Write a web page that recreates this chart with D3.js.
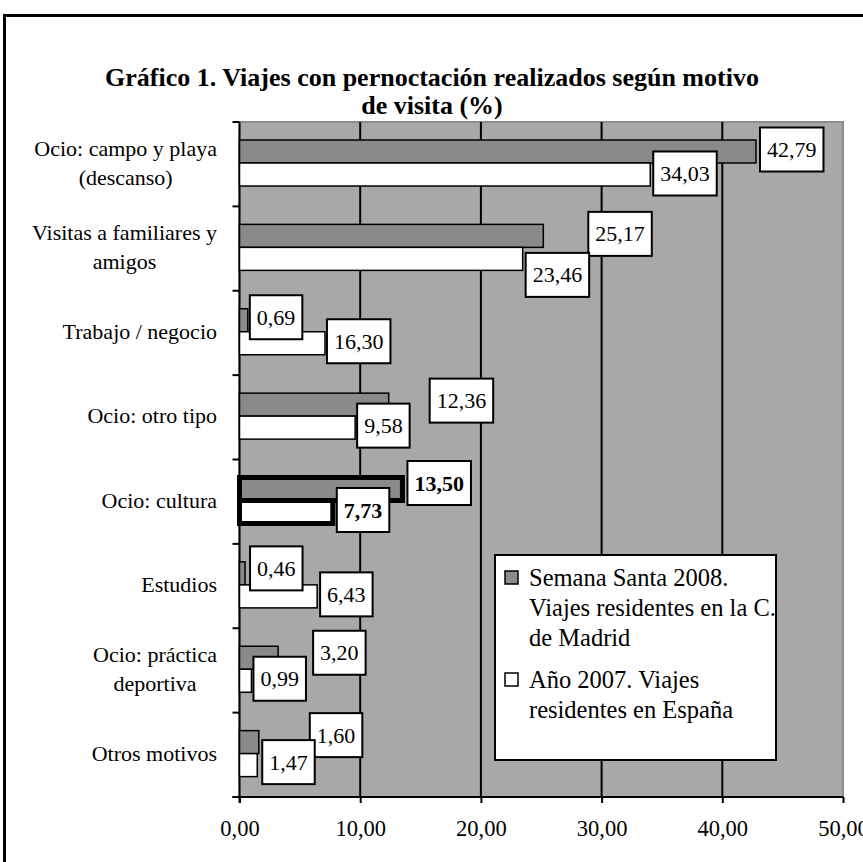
<!DOCTYPE html>
<html>
<head>
<meta charset="utf-8">
<script src="https://cdn.jsdelivr.net/npm/d3@7"></script>
<style>
  body { margin: 0; background: #fff; }
  svg text { font-family: "Liberation Serif", "Times New Roman", serif; fill: #000; }
</style>
</head>
<body>
<svg id="chart" width="863" height="862"></svg>
<script>
// data
var categories = [
  ["Ocio: campo y playa", "(descanso)"],
  ["Visitas a familiares y", "amigos"],
  ["Trabajo / negocio"],
  ["Ocio: otro tipo"],
  ["Ocio: cultura"],
  ["Estudios"],
  ["Ocio: práctica", "deportiva"],
  ["Otros motivos"]
];
// bar lengths as drawn
var semanaSanta2008 = [42.79, 25.17, 0.69, 12.36, 13.50, 0.46, 3.20, 1.60];
var ano2007 = [34.03, 23.46, 7.08, 9.58, 7.73, 6.43, 0.99, 1.47];
// printed value labels (the Trabajo bar in the original is shorter than its label)
var semanaSanta2008Labels = ["42,79", "25,17", "0,69", "12,36", "13,50", "0,46", "3,20", "1,60"];
var ano2007Labels = ["34,03", "23,46", "16,30", "9,58", "7,73", "6,43", "0,99", "1,47"];
var xTicks = [0, 10, 20, 30, 40, 50];
var legendLabels = [
  ["Semana Santa 2008.", "Viajes residentes en la C.", "de Madrid"],
  ["Año 2007. Viajes", "residentes en España"]
];
var titleLines = ["Gráfico 1. Viajes con pernoctación realizados según motivo", "de visita (%)"];
var highlighted = "Ocio: cultura";

// label nudges (pixels) so boxes don't collide, as in the original
var nudgeDark = [[4,-2],[45,-2],[2,-3],[41,-4],[3,-6],[5,-5],[35,-5],[51,-7]];
var nudgeWhite = [[3,-1],[3,16],[2,-2],[2,-2],[2,-2],[3,-2],[2,-2],[5,-3]];

var svg = d3.select("#chart");
var fmt = function(v){ return d3.format(".2f")(v).replace(".", ","); };

var plot = {left: 239.5, right: 843, top: 122, bottom: 797};

var x = d3.scaleLinear().domain([0, 50]).range([plot.left, plot.right]);
var y = d3.scaleBand()
          .domain(categories.map(function(d){ return d.join(" "); }))
          .range([plot.top, plot.bottom]);
var bw = y.bandwidth();
var barH = 23;
var darkOff = 18, whiteOff = 41;

// outer frame
svg.append("rect").attr("width", 863).attr("height", 862).attr("fill", "#fff");
svg.append("rect")
   .attr("x", 4.5).attr("y", 15.5).attr("width", 880).attr("height", 880)
   .attr("fill", "none").attr("stroke", "#000").attr("stroke-width", 3);

// title
svg.selectAll(".title")
   .data(titleLines)
   .enter()
   .append("text")
     .attr("class", "title")
     .attr("x", 432)
     .attr("y", function(d, i){ return 86 + i * 28; })
     .attr("text-anchor", "middle")
     .attr("font-size", 26)
     .attr("font-weight", "bold")
     .text(function(d){ return d; });

// plot background
svg.append("rect")
   .attr("x", plot.left).attr("y", plot.top)
   .attr("width", plot.right - plot.left).attr("height", plot.bottom - plot.top)
   .attr("fill", "#a8a8a8")
   .attr("stroke", "#8c8c8c").attr("stroke-width", 2);

// gridlines
svg.selectAll(".grid")
   .data(xTicks.slice(1, -1))
   .enter()
   .append("line")
     .attr("x1", function(d){ return x(d); })
     .attr("x2", function(d){ return x(d); })
     .attr("y1", plot.top).attr("y2", plot.bottom)
     .attr("stroke", "#000").attr("stroke-width", 2);

// x axis
var xAxis = d3.axisBottom(x)
              .tickValues(xTicks)
              .tickSize(6)
              .tickFormat(fmt);
var gx = svg.append("g")
            .attr("transform", `translate(0,${plot.bottom})`)
            .call(xAxis);
gx.select(".domain").remove();
gx.append("line").attr("x1", plot.left - 7).attr("x2", plot.right)
  .attr("stroke", "#000").attr("stroke-width", 2);
gx.selectAll(".tick line").attr("stroke", "#000").attr("stroke-width", 2);
gx.selectAll(".tick text")
  .attr("font-size", 22.5)
  .attr("font-family", "Liberation Serif, serif")
  .attr("fill", "#000")
  .attr("dy", 0)
  .attr("y", 39);

// y axis line + ticks at band boundaries
svg.append("line")
   .attr("x1", plot.left).attr("x2", plot.left)
   .attr("y1", plot.top).attr("y2", plot.bottom + 6)
   .attr("stroke", "#000").attr("stroke-width", 2);
var bounds = y.domain().map(function(d){ return y(d); }).concat([plot.bottom]);
svg.selectAll(".ytick")
   .data(bounds)
   .enter()
   .append("line")
     .attr("x1", plot.left - 7).attr("x2", plot.left)
     .attr("y1", function(d){ return d; }).attr("y2", function(d){ return d; })
     .attr("stroke", "#000").attr("stroke-width", 2);

// category labels (multi-line, centred on each other, right-aligned block)
var catRight = 217;
categories.forEach(function(lines, ci){
  var cy = y(lines.join(" ")) + bw / 2;
  var g = svg.append("g");
  var texts = g.selectAll("text")
    .data(lines)
    .enter()
    .append("text")
      .attr("font-size", 22)
      .attr("y", function(d, i){ return cy + 6 - (lines.length - 1) * 14.5 + i * 29; })
      .text(function(d){ return d; });
  var widths = [];
  texts.each(function(){ widths.push(this.getComputedTextLength()); });
  var maxW = d3.max(widths);
  texts.attr("x", catRight - maxW / 2).attr("text-anchor", "middle");
});

// bars
var rows = categories.map(function(d, i){
  return {key: d.join(" "), dark: semanaSanta2008[i], white: ano2007[i],
          darkLabel: semanaSanta2008Labels[i], whiteLabel: ano2007Labels[i], i: i};
});

function drawBars(field, off, fill){
  svg.selectAll(".bar-" + field)
     .data(rows)
     .enter()
     .append("rect")
       .attr("class", "bar-" + field)
       .attr("x", plot.left)
       .attr("y", function(d){ return y(d.key) + off; })
       .attr("width", function(d){ return x(d[field]) - plot.left; })
       .attr("height", barH)
       .attr("fill", fill)
       .attr("stroke", "#000")
       .attr("stroke-width", function(d){ return d.key == highlighted ? 5 : 1.5; });
}
drawBars("dark", darkOff, "#8a8a8a");
drawBars("white", whiteOff, "#fff");

// value labels in boxes
function drawLabels(field, off, nudge){
  rows.forEach(function(d){
    var v = d[field];
    var bold = d.key == highlighted;
    var cx0 = x(v) + nudge[d.i][0] + (bold ? 2 : 0);
    var cy = y(d.key) + off + barH / 2 + nudge[d.i][1];
    var g = svg.append("g");
    var box = g.append("rect");
    var t = g.append("text")
      .attr("font-size", 22)
      .attr("font-weight", bold ? "bold" : "normal")
      .attr("y", cy + 7.5)
      .text(d[field + "Label"]);
    var tw = t.node().getComputedTextLength();
    var bwid = tw + 14;
    t.attr("x", cx0 + 7);
    box.attr("x", cx0).attr("y", cy - 22)
       .attr("width", bwid).attr("height", 44)
       .attr("fill", "#fff").attr("stroke", "#000").attr("stroke-width", 2);
  });
}
drawLabels("dark", darkOff, nudgeDark);
drawLabels("white", whiteOff, nudgeWhite);

// legend
var lg = svg.append("g");
lg.append("rect")
  .attr("x", 495).attr("y", 555).attr("width", 281).attr("height", 205)
  .attr("fill", "#fff").attr("stroke", "#000").attr("stroke-width", 2);
var legendFills = ["#8a8a8a", "#fff"];
var legendTop = [586, 688];
legendLabels.forEach(function(lines, li){
  lg.append("rect")
    .attr("x", 505).attr("y", legendTop[li] - 15)
    .attr("width", 13).attr("height", 13)
    .attr("fill", legendFills[li]).attr("stroke", "#000").attr("stroke-width", 1.5);
  lg.selectAll(".lt" + li)
    .data(lines)
    .enter()
    .append("text")
      .attr("x", 529)
      .attr("y", function(d, i){ return legendTop[li] + i * 30; })
      .attr("font-size", 24.5)
      .text(function(d){ return d; });
});
</script>
</body>
</html>
